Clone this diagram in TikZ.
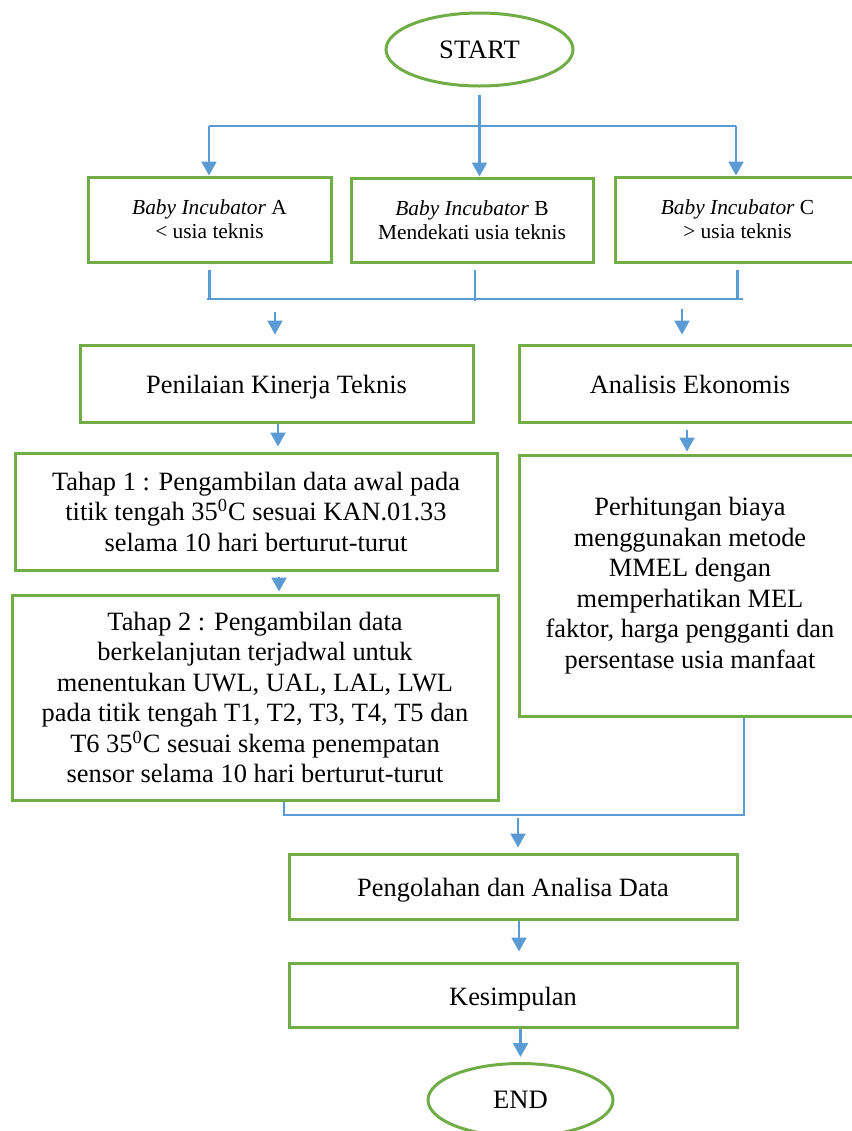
\documentclass[tikz,border=0pt]{standalone}
\usepackage{fontspec}
\setmainfont{Liberation Serif}
\usetikzlibrary{shapes.geometric,arrows.meta}
\definecolor{grn}{HTML}{70AD47}
\definecolor{blu}{HTML}{5B9BD5}
\begin{document}
\begin{tikzpicture}[x=0.5pt,y=-0.5pt,
  box/.style={draw=grn,line width=1.5pt,rectangle,inner sep=0pt,align=center,
    font=\fontsize{13.2}{15.25}\selectfont},
  onebox/.style={box,text height=10pt,text depth=0pt},
  smallbox/.style={box,font=\fontsize{10.7}{12}\selectfont},
  term/.style={draw=grn,line width=1.5pt,ellipse,inner sep=0pt,
    font=\fontsize{13.3}{15}\selectfont},
  conn/.style={draw=blu,line width=1.1pt},
  arr/.style={conn,-{Triangle[width=7.5pt,length=7pt]}}]
\useasboundingbox (0,0) rectangle (852,1131);

% nodes
\node[term,minimum width=93.5pt,minimum height=36.5pt] (start) at (479.5,49.5) {START};
\node[smallbox,minimum width=121.5pt,minimum height=42.5pt] (a) at (209.5,219.5)
  {\textit{Baby Incubator} A\\\textless{} usia teknis};
\node[smallbox,minimum width=121pt,minimum height=42pt] (b) at (472,220)
  {\textit{Baby Incubator} B\\Mendekati usia teknis};
\node[smallbox,minimum width=122.5pt,minimum height=42.5pt] (c) at (737.5,219.5)
  {\textit{Baby Incubator} C\\\textgreater{} usia teknis};
\node[onebox,minimum width=196.5pt,minimum height=38.5pt] (pen) at (276.5,383.5)
  {Penilaian Kinerja Teknis};
\node[onebox,minimum width=171pt,minimum height=38.5pt] (an) at (690,383.5)
  {Analisis Ekonomis};
\node[box,minimum width=241pt,minimum height=58.5pt] (t1) at (256,511.5)
  {Tahap 1 : Pengambilan data awal pada\\titik tengah 35\textsuperscript{0}C sesuai KAN.01.33\\selama 10 hari berturut-turut};
\node[box,minimum width=171pt,minimum height=130.5pt] (det) at (690,585.5)
  {Perhitungan biaya\\menggunakan metode\\MMEL dengan\\memperhatikan MEL\\faktor, harga pengganti dan\\persentase usia manfaat};
\node[box,minimum width=243pt,minimum height=102.5pt] (t2) at (255,697.5)
  {Tahap 2 : Pengambilan data\\berkelanjutan terjadwal untuk\\menentukan UWL, UAL, LAL, LWL\\pada titik tengah T1, T2, T3, T4, T5 dan\\T6 35\textsuperscript{0}C sesuai skema penempatan\\sensor selama 10 hari berturut-turut};
\node[onebox,minimum width=224pt,minimum height=32.5pt] (peng) at (513,886.5)
  {Pengolahan dan Analisa Data};
\node[onebox,minimum width=224pt,minimum height=32pt] (kes) at (513,995)
  {Kesimpulan};
\node[term,minimum width=92.5pt,minimum height=36.5pt] (end) at (520.5,1100) {END};

% helper coordinates
\coordinate (jl) at (209,126);
\coordinate (jr) at (736,126);
\coordinate (ml1) at (207,299);
\coordinate (mr1) at (743,299);
\coordinate (fa) at (275,312);
\coordinate (fb) at (682,309);
\coordinate (xa) at (278,0);
\coordinate (xb) at (687,0);
\coordinate (xc) at (279,0);
\coordinate (ml2) at (284,815);
\coordinate (mr2) at (744,815);
\coordinate (fc) at (518,818);
\coordinate (xd) at (519,0);

% split from START
\draw[arr] ([yshift=-3.5pt]start.south) -- (start.south |- b.north);
\draw[conn] (jl) -- (jr);
\draw[arr] (jl) -- (jl |- a.north);
\draw[arr] (jr) -- (jr |- c.north);

% merge below incubators
\draw[conn] (ml1) -- (mr1);
\draw[conn] ([yshift=-3pt]a.south) -- (a.south |- ml1);
\draw[conn] ([xshift=1.5pt,yshift=-3pt]b.south) -- ++(0,31);
\draw[conn] ([yshift=-3pt]c.south) -- (c.south |- ml1);
\draw[arr,shorten >=4.5pt] (fa) -- (fa |- pen.north);
\draw[arr,shorten >=4.5pt] (fb) -- (fb |- an.north);

% left column
\draw[arr,shorten >=2.5pt] (xa |- pen.south) -- (xa |- t1.north);
\draw[arr,shorten <=2.5pt,shorten >=1pt] (xc |- t1.south) -- (xc |- t2.north);

% right column
\draw[arr,shorten <=3pt,shorten >=1pt] (xb |- an.south) -- (xb |- det.north);

% merge to processing
\draw[conn] (ml2 |- t2.south) -- (ml2) -- (mr2) -- (mr2 |- det.south);
\draw[arr,shorten >=2.5pt] (fc) -- (fc |- peng.north);
\draw[arr,shorten >=5pt] (xd |- peng.south) -- (xd |- kes.north);
\draw[arr,shorten >=2.5pt] (end.north |- kes.south) -- (end.north);
\end{tikzpicture}
\end{document}
